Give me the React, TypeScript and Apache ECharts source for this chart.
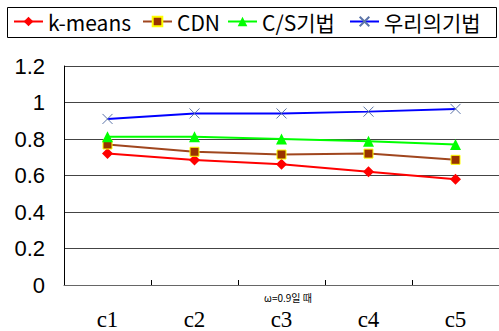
import React, { useEffect, useRef } from "react";
import * as echarts from "echarts";

const categories = ["c1", "c2", "c3", "c4", "c5"];
const kmeans = [0.72, 0.685, 0.662, 0.62, 0.58];
const cdn = [0.77, 0.73, 0.715, 0.72, 0.686];
const csBased = [0.812, 0.812, 0.8, 0.788, 0.77];
const ours = [0.91, 0.94, 0.94, 0.95, 0.965];
const seriesNames = ["k-means", "CDN", "C/S기법", "우리의기법"];
const yTicks = { min: 0, max: 1.2, interval: 0.2 };
const subtitle = "ω=0.9일 때";

const crossPath = "path://M0,0L10,10M10,0L0,10";

export default function App() {
  const ref = useRef<HTMLDivElement>(null);
  useEffect(() => {
    if (!ref.current) return;
    const chart = echarts.init(ref.current, undefined, { renderer: "svg" });
    const legendFont = {
      fontSize: 21,
      fontFamily: "'Noto Sans CJK KR', 'Liberation Sans', sans-serif",
      color: "#000",
    };
    const legendLefts = [13, 142, 227, 349];
    chart.setOption({
      animation: false,
      backgroundColor: "#fff",
      grid: { left: 64, top: 66, width: 438, height: 221 },
      legend: seriesNames.map((n, i) => ({
        data: [n],
        left: legendLefts[i],
        top: 11,
        padding: 0,
        itemWidth: 29,
        itemHeight: 12,
        itemGap: 4,
        textStyle: legendFont,
      })),
      graphic: [
        {
          type: "rect",
          shape: { x: 7.5, y: 7.5, width: 489, height: 30 },
          style: { fill: "none", stroke: "#000", lineWidth: 1 },
          z: 100,
        },
        {
          type: "text",
          x: 288,
          y: 297,
          style: {
            text: subtitle,
            fontSize: 10,
            fontFamily: "'Noto Sans CJK KR', sans-serif",
            fill: "#000",
            align: "center",
            verticalAlign: "middle",
          },
        },
      ],
      xAxis: {
        type: "category",
        data: categories,
        boundaryGap: true,
        axisLine: { lineStyle: { color: "#666", width: 1 } },
        axisTick: { show: true, inside: true, length: 5, lineStyle: { color: "#000" } },
        axisLabel: {
          margin: 23,
          fontSize: 23,
          fontWeight: "normal",
          fontFamily: "'Liberation Serif', serif",
          color: "#000",
        },
      },
      yAxis: {
        type: "value",
        min: yTicks.min,
        max: yTicks.max,
        interval: yTicks.interval,
        axisLine: { show: true, lineStyle: { color: "#000", width: 1 } },
        axisTick: { show: false },
        splitLine: { lineStyle: { color: "#444", width: 1 } },
        axisLabel: {
          margin: 19,
          fontSize: 22,
          fontFamily: "'Liberation Sans', Arial, sans-serif",
          color: "#000",
        },
      },
      series: [
        {
          name: seriesNames[0],
          type: "line",
          data: kmeans,
          symbol: "diamond",
          symbolSize: 11,
          lineStyle: { color: "#ff0000", width: 2 },
          itemStyle: { color: "#ff0000" },
        },
        {
          name: seriesNames[1],
          type: "line",
          data: cdn,
          symbol: "rect",
          symbolSize: 9,
          lineStyle: { color: "#a0461e", width: 2 },
          itemStyle: { color: "#993300", borderColor: "#ffff00", borderWidth: 1 },
        },
        {
          name: seriesNames[2],
          type: "line",
          data: csBased,
          symbol: "triangle",
          symbolSize: 11,
          lineStyle: { color: "#00ff00", width: 2 },
          itemStyle: { color: "#00ff00" },
        },
        {
          name: seriesNames[3],
          type: "line",
          data: ours,
          symbol: crossPath,
          symbolSize: 10,
          lineStyle: { color: "#0000ff", width: 2 },
          itemStyle: { color: "#5b74a8", borderColor: "#5b74a8", borderWidth: 1 },
        },
      ],
    });
    return () => chart.dispose();
  }, []);
  return (
    <div
      ref={ref}
      style={{ position: "fixed", left: 0, top: 0, width: 499, height: 331 }}
    />
  );
}
